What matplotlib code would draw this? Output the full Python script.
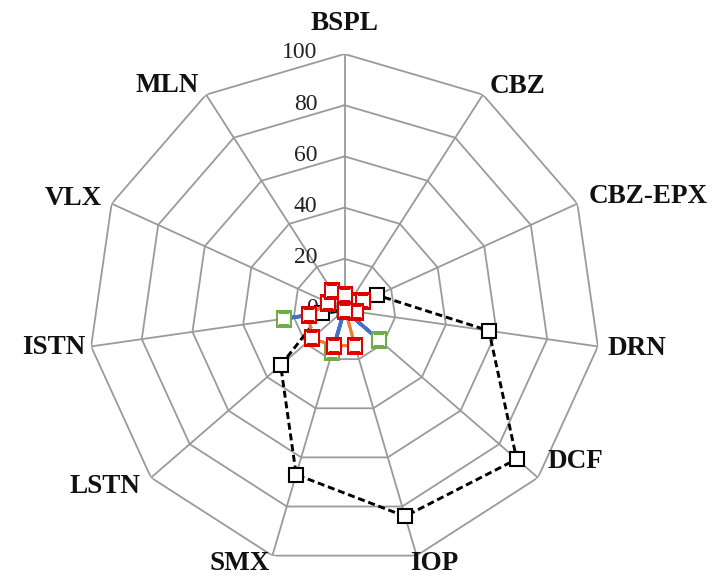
import numpy as np
import matplotlib
matplotlib.use("Agg")
import matplotlib.pyplot as plt

# Categories around the radar, clockwise from the top
categories = ["BSPL", "CBZ", "CBZ-EPX", "DRN", "DCF", "IOP",
              "SMX", "LSTN", "ISTN", "VLX", "MLN"]

# Series values (%)
series_blue = [0, 0, 0, 0, 18, 0, 17, 0, 24, 0, 0]
series_black = [0, 0, 14, 57, 89, 84, 67, 33, 9, 0, 0]
series_red = [6, 4, 8, 4.5, 0.5, 14.5, 14.5, 17, 14, 7, 9]

ring_values = [20, 40, 60, 80, 100]
tick_values = [0, 20, 40, 60, 80, 100]

# Label placement offsets in pixels (dx, dy) from each outer vertex
label_offsets = {
    "BSPL": (0, 30, "center"),
    "CBZ": (7, 8, "left"),
    "CBZ-EPX": (11, 7, "left"),
    "DRN": (10, -2, "left"),
    "DCF": (10, 16, "left"),
    "IOP": (-6, -8, "left"),
    "SMX": (-3, -8, "right"),
    "LSTN": (-11, -9, "right"),
    "ISTN": (-6, -1, "right"),
    "VLX": (-10, 5, "right"),
    "MLN": (-7, 9, "right"),
}

serif = ["Liberation Serif", "DejaVu Serif"]

n = len(categories)
theta = np.arange(n) * 2 * np.pi / n
theta_c = np.append(theta, theta[0])


def closed(vals):
    return np.append(vals, vals[0])


W, H = 715, 577
fig = plt.figure(figsize=(W / 100, H / 100), dpi=100)
cx, cy, R = 344.5, 310.0, 256.0
ax = fig.add_axes([(cx - R) / W, (H - cy - R) / H, 2 * R / W, 2 * R / H],
                  projection="polar")
ax.set_theta_offset(np.pi / 2)
ax.set_theta_direction(-1)
ax.set_ylim(0, 100)
ax.grid(False)
ax.set_xticks([])
ax.set_yticks([])
ax.spines["polar"].set_visible(False)
ax.patch.set_alpha(0)

grid_color = "#9a9a9a"
for v in ring_values:
    ax.plot(theta_c, [v] * (n + 1), color=grid_color, lw=1.3, zorder=1)
for t in theta:
    ax.plot([t, t], [0, 100], color=grid_color, lw=1.3, zorder=1)

# Radial tick labels along the top spoke
for v in tick_values:
    ax.annotate(str(v), xy=(0, v), xytext=(-27, 1), textcoords="offset pixels",
                ha="right", va="center", fontsize=17, family=serif,
                color="#222222", zorder=2)

ms, mew = 9.5, 1.5
ax.plot(theta_c, closed(series_blue), color="#4472c4", lw=2.6, zorder=3,
        marker="s", ms=ms, mfc="white", mec="#70ad47", mew=mew)
ax.plot(theta_c, closed(series_black), color="black", lw=2.1,
        linestyle=(0, (2.4, 1.3)), zorder=4,
        marker="s", ms=ms, mfc="white", mec="black", mew=mew, clip_on=False)
ax.plot(theta_c, closed(series_red), color="#ed7d31", lw=2.3, zorder=5,
        marker="s", ms=ms, mfc="white", mec="#e00000", mew=mew)

# Category labels at the outer vertices
for t, name in zip(theta, categories):
    dx, dy, ha = label_offsets[name]
    ax.annotate(name, xy=(t, 100), xytext=(dx, dy), textcoords="offset pixels",
                ha=ha, va="center", fontsize=19.5, fontweight="bold",
                family=serif, color="#111111", annotation_clip=False)

fig.savefig("out.png", dpi=100)
